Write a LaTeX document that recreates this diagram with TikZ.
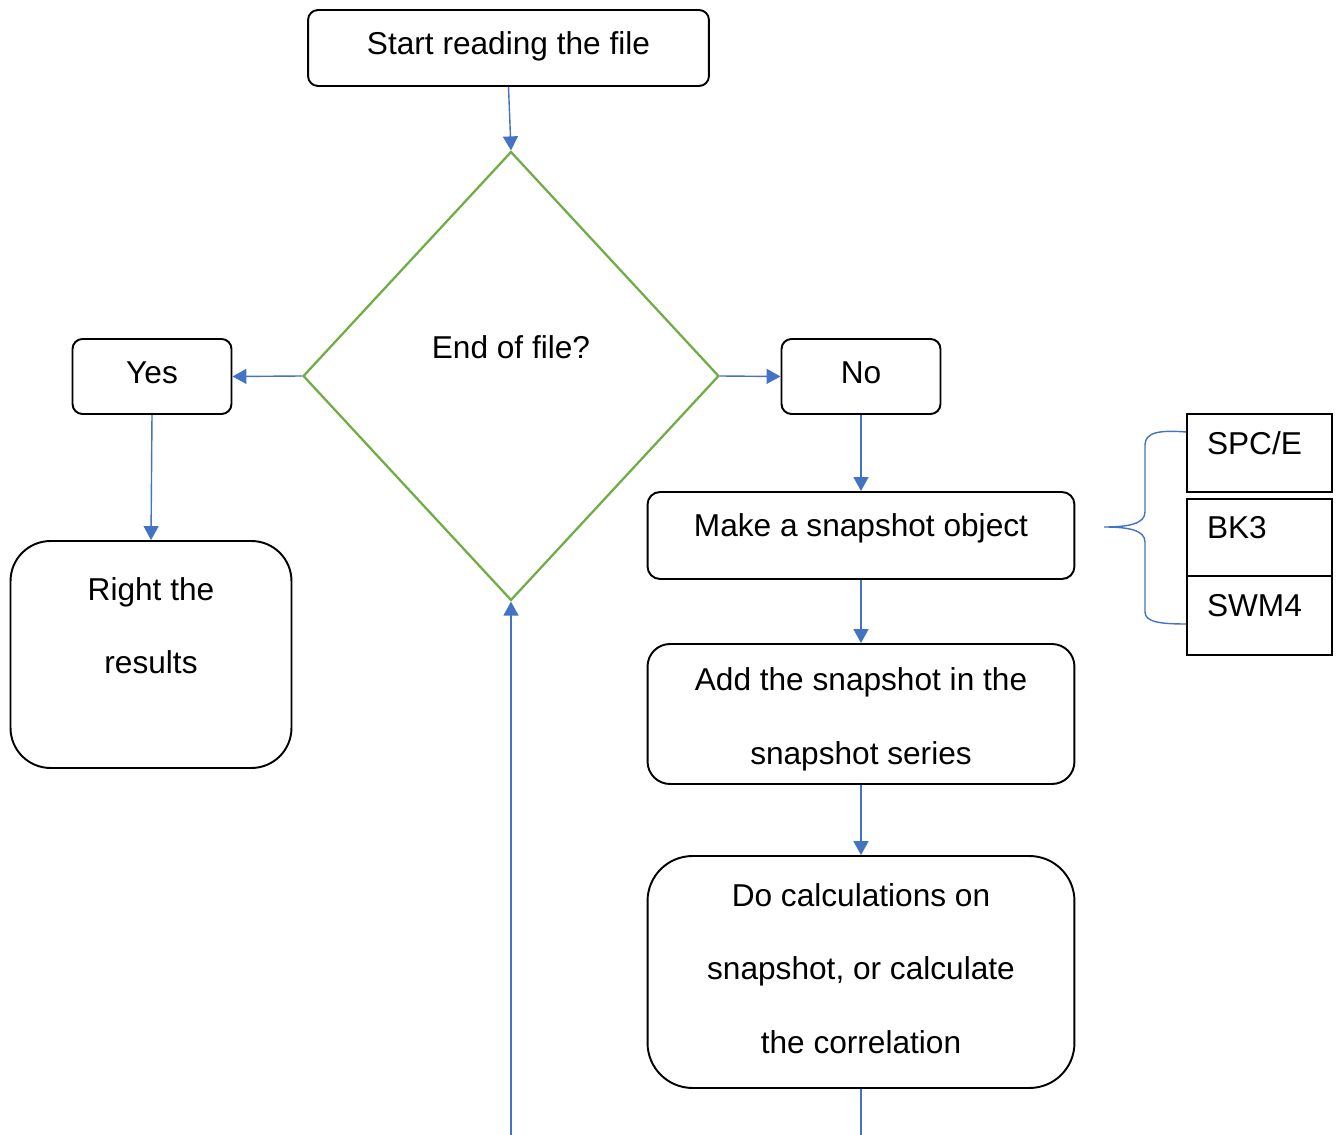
\documentclass[tikz,border=0pt]{standalone}
\usepackage{fontspec}
\setmainfont{Liberation Sans}
\usetikzlibrary{positioning}
\usetikzlibrary{calc}
\usetikzlibrary{shapes.geometric}
\usetikzlibrary{arrows.meta}

\definecolor{linkblue}{HTML}{4472C4}
\definecolor{decgreen}{HTML}{70AD47}

\begin{document}
\begin{tikzpicture}[x=0.02cm, y=-0.02cm,
    every node/.style={font=\fontsize{18pt}{42pt}\selectfont, text height=13pt, text depth=13pt, inner sep=0pt},
    box/.style={draw, line width=1.1pt, rounded corners=#1, align=center},
    box/.default=0.2cm,
    decision/.style={draw=decgreen, line width=1.3pt, diamond, minimum width=8.32cm, minimum height=8.98cm},
    model/.style={draw, line width=0.8pt, text width=2.1cm, align=left, inner xsep=0.4cm, text depth=11.5pt},
    link/.style={draw=linkblue, line width=0.8pt, -{Triangle[length=0.28cm, width=0.3cm]}}
  ]
  \useasboundingbox (0,0) rectangle (1340,1135);

  \node[box, minimum width=8.02cm, minimum height=1.52cm, text depth=6pt] (start) at (508.5,48) {Start reading the file};
  \node[decision, text depth=33pt] (eof) at (511,376) {End of file?};
  \node[box, minimum width=3.18cm, minimum height=1.5cm, text depth=5pt] (yes) at (152,376.5) {Yes};
  \node[box, minimum width=3.18cm, minimum height=1.5cm, text depth=5pt] (no) at (861,376.5) {No};
  \node[box=0.8cm, minimum width=5.62cm, minimum height=4.54cm, text height=35pt] (res) at (151,654.5) {Right the\\results};
  \node[box=0.25cm, minimum width=8.54cm, minimum height=1.74cm, text depth=11.5pt] (make) at (861,535.5) {Make a snapshot object};
  \node[box=0.45cm, minimum width=8.54cm, minimum height=2.8cm, text height=62pt, text depth=4.5pt] (add) at (861,714) {Add the snapshot in the\\snapshot series};
  \node[box=0.9cm, minimum width=8.54cm, minimum height=4.64cm, text height=106pt] (calc) at (861,972) {Do calculations on\\snapshot, or calculate\\the correlation};

  % water models
  \node[model, minimum height=1.56cm] (spce) at (1259.5,453) {SPC/E};
  \node[model, minimum height=1.54cm] (bk3) at (1259.5,537.5) {BK3};
  \node[model, minimum height=1.58cm] (swm) at (1259.5,615.5) {SWM4};

  \draw[link] (start.south) -- (eof.north);
  \draw[link] (eof.west) -- (yes.east);
  \draw[link] (eof.east) -- (no.west);
  \draw[link] (yes.south) -- (res.north);
  \draw[link] (no.south) -- (make.north);
  \draw[link] (make.south) -- (add.north);
  \draw[link] (add.south) -- (calc.north);

  % loop back to the test
  \coordinate (calcout) at (861,1135);
  \coordinate (loopin) at (511,1135);
  \draw[link, -] (calc.south) -- (calcout);
  \draw[link] (loopin) -- (eof.south);

  % brace
  \coordinate (bracetip) at (1104,527);
  \draw[linkblue, line width=0.8pt] ($(spce.west)+(0,-21)$)
    .. controls (1160,430) and (1145,432) .. (1145,445) -- (1145,512)
    .. controls (1145,524) and (1128,527) .. (bracetip)
    .. controls (1128,527) and (1145,530) .. (1145,542) -- (1145,612)
    .. controls (1145,622) and (1160,624) .. ($(swm.west)+(0,8.5)$);
\end{tikzpicture}
\end{document}
